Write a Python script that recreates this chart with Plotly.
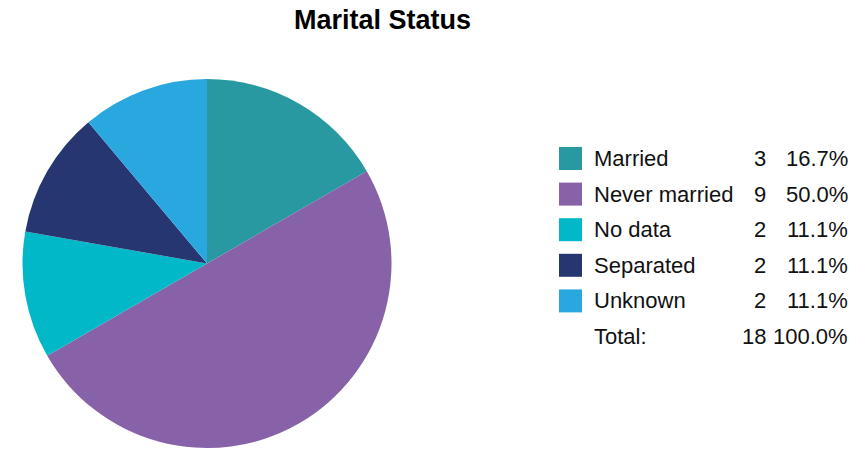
import plotly.graph_objects as go

# Data
labels = ["Married", "Never married", "No data", "Separated", "Unknown"]
counts = [3, 9, 2, 2, 2]
colors = ["#2899a0", "#8862a8", "#00b8c8", "#263671", "#29a8e0"]
title_text = "Marital Status"

W, H = 868, 450
total = sum(counts)

fig = go.Figure()
fig.add_trace(go.Pie(
    labels=labels,
    values=counts,
    sort=False,
    direction="clockwise",
    rotation=0,
    textinfo="none",
    marker=dict(colors=colors, line=dict(width=0)),
    domain=dict(x=[21 / W, 393 / W], y=[2 / H, 1 - 79 / H]),
    showlegend=False,
))

def px(x):
    return x / W

def py(y):
    return 1 - y / H

font = dict(family="Liberation Sans, Arial, sans-serif", size=22, color="#111111")
shapes = []
annotations = []
row0 = 158.5
step = 35.6
for i, (lab, c, col) in enumerate(zip(labels, counts, colors)):
    yc = row0 + i * step
    shapes.append(dict(type="rect", xref="paper", yref="paper",
                       x0=px(559), x1=px(582), y0=py(yc + 11.5), y1=py(yc - 11.5),
                       fillcolor=col, line=dict(width=0)))
    annotations.append(dict(xref="paper", yref="paper", x=px(592), y=py(yc),
                            text=lab, showarrow=False, xanchor="left", yanchor="middle", font=font))
    annotations.append(dict(xref="paper", yref="paper", x=px(768), y=py(yc),
                            text=str(c), showarrow=False, xanchor="right", yanchor="middle", font=font))
    annotations.append(dict(xref="paper", yref="paper", x=px(850), y=py(yc),
                            text=f"{100 * c / total:.1f}%", showarrow=False, xanchor="right",
                            yanchor="middle", font=font))

yt = row0 + len(labels) * step
annotations.append(dict(xref="paper", yref="paper", x=px(592), y=py(yt), text="Total:",
                        showarrow=False, xanchor="left", yanchor="middle", font=font))
annotations.append(dict(xref="paper", yref="paper", x=px(768), y=py(yt), text=str(total),
                        showarrow=False, xanchor="right", yanchor="middle", font=font))
annotations.append(dict(xref="paper", yref="paper", x=px(850), y=py(yt), text="100.0%",
                        showarrow=False, xanchor="right", yanchor="middle", font=font))

annotations.append(dict(xref="paper", yref="paper", x=px(382), y=py(19.5), text=f"<b>{title_text}</b>",
                        showarrow=False, xanchor="center", yanchor="middle",
                        font=dict(family="Liberation Sans, Arial, sans-serif", size=27, color="#000000")))

fig.update_layout(
    width=W, height=H,
    margin=dict(l=0, r=0, t=0, b=0),
    paper_bgcolor="white",
    plot_bgcolor="white",
    shapes=shapes,
    annotations=annotations,
)

fig.write_html("out.html",
               config={"displayModeBar": False},
               post_script="document.body.style.margin='0';document.body.style.overflow='hidden';")
